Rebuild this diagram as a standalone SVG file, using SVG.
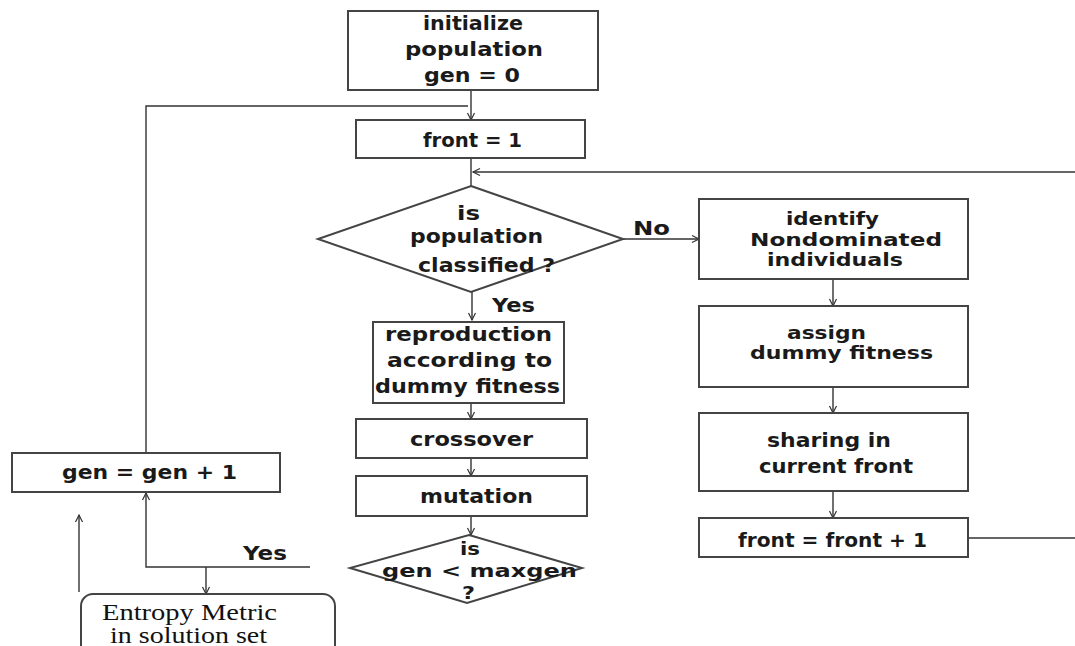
<svg xmlns="http://www.w3.org/2000/svg" width="1075" height="646" viewBox="0 0 1075 646">
<defs>
<marker id="arr" markerWidth="10" markerHeight="10" refX="8" refY="5" orient="auto" markerUnits="userSpaceOnUse">
<path d="M1,1.5 L8,5 L1,8.5" fill="none" stroke="#333" stroke-width="1.2"/>
</marker>
<style>
.box{fill:#fff;stroke:#444;stroke-width:2}
.ln{fill:none;stroke:#333;stroke-width:1.4}
.t{font-family:"DejaVu Sans",sans-serif;font-weight:bold;font-size:20px;fill:#1a1a1a}
.sm{font-size:17px}
.s{font-family:"Liberation Serif",serif;font-size:23px;fill:#111}
</style>
</defs>
<rect width="1075" height="646" fill="#fff"/>

<g id="connectors">
<line class="ln" x1="471" y1="90" x2="471" y2="120" marker-end="url(#arr)"/>
<polyline class="ln" points="146,453 146,106 468,106"/>
<line class="ln" x1="471" y1="158" x2="471" y2="186"/>
<line class="ln" x1="1075" y1="172" x2="473" y2="172" marker-end="url(#arr)"/>
<line class="ln" x1="623" y1="239" x2="699" y2="239" marker-end="url(#arr)"/>
<line class="ln" x1="472" y1="292" x2="472" y2="320" marker-end="url(#arr)"/>
<line class="ln" x1="471" y1="403" x2="471" y2="419" marker-end="url(#arr)"/>
<line class="ln" x1="471" y1="458" x2="471" y2="476" marker-end="url(#arr)"/>
<line class="ln" x1="471" y1="516" x2="471" y2="535" marker-end="url(#arr)"/>
<polyline class="ln" points="310,567 146,567 146,493" marker-end="url(#arr)"/>
<line class="ln" x1="206" y1="567" x2="206" y2="594" marker-end="url(#arr)"/>
<line class="ln" x1="79" y1="592" x2="79" y2="515" marker-end="url(#arr)"/>
<line class="ln" x1="833" y1="279" x2="833" y2="306" marker-end="url(#arr)"/>
<line class="ln" x1="833" y1="387" x2="833" y2="413" marker-end="url(#arr)"/>
<line class="ln" x1="833" y1="491" x2="833" y2="518" marker-end="url(#arr)"/>
<line class="ln" x1="968" y1="538" x2="1075" y2="538"/>
<text class="t" x="633" y="235" textLength="37" lengthAdjust="spacingAndGlyphs">No</text>
<text class="t" x="492" y="312" textLength="43" lengthAdjust="spacingAndGlyphs">Yes</text>
<text class="t" x="243" y="560" textLength="44" lengthAdjust="spacingAndGlyphs">Yes</text>
</g>

<g id="init">
<rect class="box" x="348" y="11" width="250" height="79"/>
<text class="t" x="423" y="30" textLength="100" lengthAdjust="spacingAndGlyphs">initialize</text>
<text class="t" x="405" y="56" textLength="138" lengthAdjust="spacingAndGlyphs">population</text>
<text class="t" x="424" y="82" textLength="96" lengthAdjust="spacingAndGlyphs">gen = 0</text>
</g>

<g id="front1">
<rect class="box" x="356" y="120" width="229" height="38"/>
<text class="t" x="423" y="147" textLength="99" lengthAdjust="spacingAndGlyphs">front = 1</text>
</g>

<g id="classified">
<polygon class="box" points="471,186 623,239 471,292 318,239"/>
<text class="t" x="457" y="220" textLength="23" lengthAdjust="spacingAndGlyphs">is</text>
<text class="t" x="410" y="243" textLength="133" lengthAdjust="spacingAndGlyphs">population</text>
<text class="t" x="418" y="272" textLength="137" lengthAdjust="spacingAndGlyphs">classified ?</text>
</g>

<g id="reproduction">
<rect class="box" x="373" y="322" width="191" height="81"/>
<text class="t" x="385" y="341" textLength="167" lengthAdjust="spacingAndGlyphs">reproduction</text>
<text class="t" x="387" y="367" textLength="165" lengthAdjust="spacingAndGlyphs">according to</text>
<text class="t" x="375" y="393" textLength="185" lengthAdjust="spacingAndGlyphs">dummy fitness</text>
</g>

<g id="crossover">
<rect class="box" x="356" y="419" width="231" height="39"/>
<text class="t" x="410" y="446" textLength="123" lengthAdjust="spacingAndGlyphs">crossover</text>
</g>

<g id="mutation">
<rect class="box" x="356" y="476" width="231" height="40"/>
<text class="t" x="420" y="503" textLength="113" lengthAdjust="spacingAndGlyphs">mutation</text>
</g>

<g id="maxgen">
<polygon class="box" points="469,535 582,568 467,603 350,568"/>
<text class="t sm" x="460" y="555" textLength="20" lengthAdjust="spacingAndGlyphs">is</text>
<text class="t sm" x="382" y="577" textLength="195" lengthAdjust="spacingAndGlyphs">gen &lt; maxgen</text>
<text class="t sm" x="462" y="599" textLength="13" lengthAdjust="spacingAndGlyphs">?</text>
</g>

<g id="gen-inc">
<rect class="box" x="12" y="453" width="268" height="39"/>
<text class="t" x="62" y="479" textLength="175" lengthAdjust="spacingAndGlyphs">gen = gen + 1</text>
</g>

<g id="entropy">
<rect class="box" x="81" y="594" width="254" height="72" rx="12"/>
<text class="s" x="102" y="620" textLength="175" lengthAdjust="spacingAndGlyphs">Entropy Metric</text>
<text class="s" x="110" y="643" textLength="157" lengthAdjust="spacingAndGlyphs">in solution set</text>
</g>

<g id="identify">
<rect class="box" x="699" y="199" width="269" height="80"/>
<text class="t sm" x="786" y="225" textLength="93" lengthAdjust="spacingAndGlyphs">identify</text>
<text class="t sm" x="750" y="246" textLength="192" lengthAdjust="spacingAndGlyphs">Nondominated</text>
<text class="t sm" x="767" y="266" textLength="136" lengthAdjust="spacingAndGlyphs">individuals</text>
</g>

<g id="assign">
<rect class="box" x="699" y="306" width="269" height="81"/>
<text class="t sm" x="787" y="339" textLength="79" lengthAdjust="spacingAndGlyphs">assign</text>
<text class="t" x="750" y="359" textLength="183" lengthAdjust="spacingAndGlyphs" style="font-size:18px">dummy fitness</text>
</g>

<g id="sharing">
<rect class="box" x="699" y="413" width="269" height="78"/>
<text class="t" x="767" y="447" textLength="124" lengthAdjust="spacingAndGlyphs">sharing in</text>
<text class="t" x="759" y="473" textLength="154" lengthAdjust="spacingAndGlyphs">current front</text>
</g>

<g id="front-inc">
<rect class="box" x="699" y="518" width="269" height="39"/>
<text class="t" x="738" y="547" textLength="189" lengthAdjust="spacingAndGlyphs">front = front + 1</text>
</g>
</svg>
